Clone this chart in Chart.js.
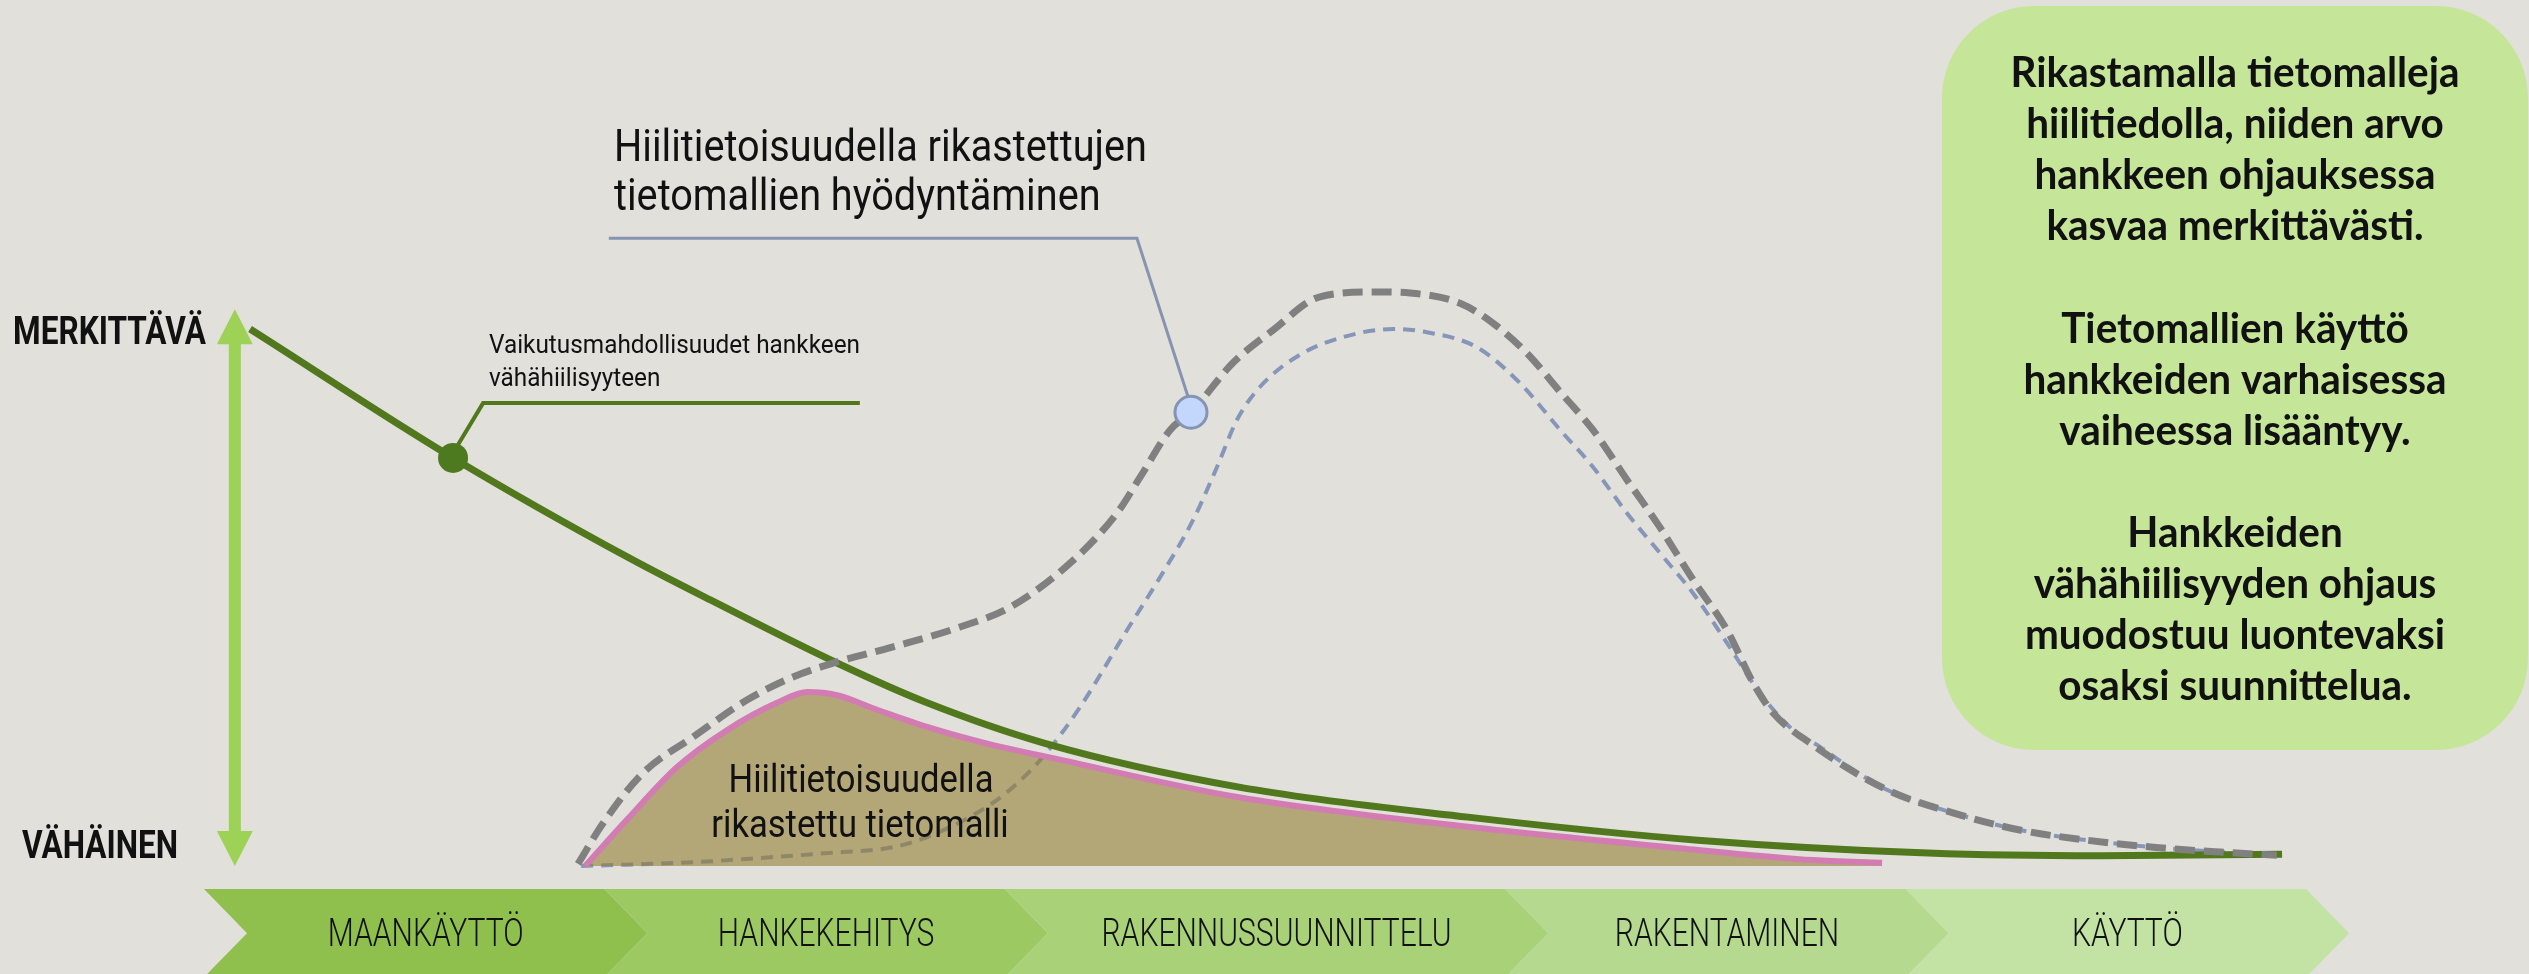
<!DOCTYPE html>
<html>
<head>
  <meta charset="utf-8">
  <title>Hiilitietoisuus tietomalleissa</title>
  <script src="https://cdn.jsdelivr.net/npm/chart.js"></script>
  <style>
    body { margin: 0; background: #e1e0db; }
  </style>
</head>
<body>
<canvas id="chart" width="2529" height="974"></canvas>
<script>
  // x: project phases (0 = start of MAANKÄYTTÖ, one unit ~ one phase)
  // y: 0 = vähäinen ... 100 = merkittävä
  const phases = ["MAANKÄYTTÖ", "HANKEKEHITYS", "RAKENNUSSUUNNITTELU", "RAKENTAMINEN", "KÄYTTÖ"];
  const phaseEdges = [0, 1, 2, 3.25, 4.25, 5.25];
  const phaseColors = ["#8fc04e", "#9cc962", "#a8d178", "#b5da8f", "#c2e3a3"];

  const levelLabels = ["VÄHÄINEN", "MERKITTÄVÄ"];
  const levelValues = [0, 100];

  // Vaikutusmahdollisuudet hankkeen vähähiilisyyteen
  const influenceX = [0.115, 0.622, 1.071, 1.266, 1.581, 1.806, 2.098, 2.585, 3.157, 3.731, 4.306, 4.735, 5.190];
  const influenceY = [100, 76.0, 57.0, 49.5, 37.8, 30.4, 22.9, 14.7, 9.1, 4.8, 2.4, 1.9, 2.2];

  // Hiilitietoisuudella rikastettujen tietomallien hyödyntäminen (thick grey dashes)
  const enrichedX = [0.934, 0.997, 1.096, 1.221, 1.356, 1.471, 1.581, 1.721, 1.888, 2.013, 2.163, 2.280, 2.338, 2.413,
    2.465, 2.570, 2.670, 2.787, 2.930, 3.012, 3.137, 3.219, 3.304, 3.387, 3.469, 3.554, 3.636, 3.719, 3.804, 3.869,
    3.919, 4.011, 4.203, 4.368, 4.535, 4.703, 4.868, 5.035, 5.177];
  const enrichedY = [0.4, 8.0, 17.3, 24.0, 30.9, 35.2, 38.0, 40.8, 44.5, 48.2, 56.4, 65.7, 72.4, 81.2,
    84.5, 93.7, 99.8, 106.0, 106.9, 106.7, 104.8, 101.1, 95.5, 88.3, 81.2, 71.9, 63.1, 53.3, 43.9, 34.1,
    28.5, 22.9, 14.2, 9.9, 6.7, 4.8, 3.5, 2.6, 2.0];

  // current use of data models (thin blue dashes)
  const currentX = [0.942, 1.221, 1.389, 1.556, 1.721, 1.806, 1.931, 2.013, 2.095, 2.188, 2.305, 2.388, 2.470, 2.530,
    2.580, 2.637, 2.737, 2.845, 2.970, 3.054, 3.179, 3.287, 3.387, 3.469, 3.554, 3.636, 3.719, 3.804, 3.886, 3.969,
    4.036, 4.093, 4.203, 4.368, 4.535, 4.703, 4.868, 5.035, 5.177];
  const currentY = [0, 0.7, 1.5, 2.4, 3.5, 5.4, 9.9, 14.2, 20.3, 29.6, 43.9, 53.8, 64.4, 74.3,
    83.1, 89.2, 95.2, 98.5, 100.0, 99.4, 96.6, 89.9, 81.2, 74.3, 65.7, 58.3, 50.8, 41.5, 32.2, 25.3,
    22.2, 19.2, 14.2, 9.9, 6.7, 4.8, 3.5, 2.6, 2.0];

  // Hiilitietoisuudella rikastettu tietomalli (filled area)
  const modelX = [0.952, 1.056, 1.181, 1.306, 1.431, 1.508, 1.581, 1.681, 1.806, 1.971, 2.095, 2.585, 3.157, 3.731, 4.019, 4.191];
  const modelY = [0, 8.6, 18.4, 25.3, 30.4, 32.4, 31.8, 29.1, 25.9, 22.5, 20.5, 12.8, 7.3, 3.0, 1.1, 0.6];

  // callout points and leader lines
  const influenceDot = [0.622, 76.0];
  const influenceLeaderX = [0.634, 0.697, 1.638];
  const influenceLeaderY = [78.4, 86.2, 86.2];
  const enrichedDot = [2.465, 84.5];
  const enrichedLeaderX = [2.458, 2.330, 1.011];
  const enrichedLeaderY = [87.3, 116.9, 116.9];

  const influenceText = ["Vaikutusmahdollisuudet hankkeen", "vähähiilisyyteen"];
  const enrichedText = ["Hiilitietoisuudella rikastettujen", "tietomallien hyödyntäminen"];
  const modelText = ["Hiilitietoisuudella", "rikastettu tietomalli"];
  const boxText = [
    "Rikastamalla tietomalleja", "hiilitiedolla, niiden arvo", "hankkeen ohjauksessa", "kasvaa merkittävästi.", "",
    "Tietomallien käyttö", "hankkeiden varhaisessa", "vaiheessa lisääntyy.", "",
    "Hankkeiden", "vähähiilisyyden ohjaus", "muodostuu luontevaksi", "osaksi suunnittelua."
  ];

  const pts = (xs, ys) => xs.map((x, i) => ({ x: x, y: ys[i] }));

  // draws text squeezed horizontally so the reference line gets the wanted width
  function squeeze(ctx, font, ref, width) {
    ctx.font = font;
    return width / ctx.measureText(ref).width;
  }
  function drawText(ctx, str, x, y, sx, align) {
    ctx.save();
    ctx.translate(x, y);
    ctx.scale(sx, 1);
    ctx.textAlign = align;
    ctx.textBaseline = "alphabetic";
    ctx.fillText(str, 0, 0);
    ctx.restore();
  }

  const backdrop = {
    id: "backdrop",
    beforeDatasetsDraw(chart) {
      const ctx = chart.ctx;
      const xs = chart.scales.x, ys = chart.scales.y;

      // phase chevrons
      const top = ys.getPixelForValue(-4.3), mid = ys.getPixelForValue(-12.5);
      const bottom = 2 * mid - top, d = 43;
      ctx.save();
      phases.forEach((p, i) => {
        const l = xs.getPixelForValue(phaseEdges[i]), r = xs.getPixelForValue(phaseEdges[i + 1]);
        ctx.beginPath();
        ctx.moveTo(l, top);
        ctx.lineTo(r, top);
        ctx.lineTo(r + d, mid);
        ctx.lineTo(r, bottom);
        ctx.lineTo(l, bottom);
        ctx.lineTo(l + d, mid);
        ctx.closePath();
        ctx.fillStyle = phaseColors[i];
        ctx.fill();
      });
      ctx.fillStyle = "#111";
      let f = "300 39px Roboto";
      let sx = squeeze(ctx, f, phases[0], 196);
      phases.forEach((p, i) => {
        const l = xs.getPixelForValue(phaseEdges[i]), r = xs.getPixelForValue(phaseEdges[i + 1]);
        drawText(ctx, p, (l + r) / 2 + d / 2, 946, sx, "center");
      });

      // vertical double arrow
      const ax = xs.getPixelForValue(0.077);
      const aTop = ys.getPixelForValue(103.7), aBot = ys.getPixelForValue(0);
      const head = 35, hw = 18, sw = 6;
      ctx.fillStyle = "#9dd256";
      ctx.beginPath();
      ctx.moveTo(ax, aTop);
      ctx.lineTo(ax + hw, aTop + head);
      ctx.lineTo(ax + sw, aTop + head);
      ctx.lineTo(ax + sw, aBot - head);
      ctx.lineTo(ax + hw, aBot - head);
      ctx.lineTo(ax, aBot);
      ctx.lineTo(ax - hw, aBot - head);
      ctx.lineTo(ax - sw, aBot - head);
      ctx.lineTo(ax - sw, aTop + head);
      ctx.lineTo(ax - hw, aTop + head);
      ctx.closePath();
      ctx.fill();

      // level labels
      ctx.fillStyle = "#111";
      f = "700 38px Roboto";
      sx = squeeze(ctx, f, levelLabels[1], 193);
      drawText(ctx, levelLabels[1], 13, ys.getPixelForValue(levelValues[1]) + 15, sx, "left");
      drawText(ctx, levelLabels[0], 22, ys.getPixelForValue(levelValues[0]) - 8, sx, "left");

      // text box
      ctx.fillStyle = "#c5e599";
      ctx.beginPath();
      ctx.roundRect(1942, 6, 586, 744, 92);
      ctx.fill();
      ctx.fillStyle = "#111";
      f = "700 42px Lato";
      sx = squeeze(ctx, f, boxText[0], 449);
      boxText.forEach((t, i) => { if (t) drawText(ctx, t, 2235, 87 + i * 51.1, sx, "center"); });

      // callout texts
      f = "400 44px Roboto";
      sx = squeeze(ctx, f, enrichedText[0], 533);
      drawText(ctx, enrichedText[0], 614, 161, sx, "left");
      drawText(ctx, enrichedText[1], 614, 210, sx, "left");
      f = "400 26px Roboto";
      sx = squeeze(ctx, f, influenceText[0], 371);
      drawText(ctx, influenceText[0], 489, 353, sx, "left");
      drawText(ctx, influenceText[1], 489, 386, sx, "left");
      ctx.restore();
    },
    afterDatasetsDraw(chart) {
      const ctx = chart.ctx;
      ctx.save();
      ctx.fillStyle = "#111";
      const f = "400 38px Roboto";
      const sx = squeeze(ctx, f, modelText[0], 265);
      drawText(ctx, modelText[0], 861, 792, sx, "center");
      drawText(ctx, modelText[1], 860, 837, sx, "center");
      ctx.restore();
    }
  };

  const line = { pointRadius: 0, fill: false, cubicInterpolationMode: "monotone" };

  new Chart(document.getElementById("chart"), {
    type: "line",
    data: {
      datasets: [
        { data: [{ x: enrichedDot[0], y: enrichedDot[1] }], showLine: false, pointRadius: 16,
          backgroundColor: "#c3d6fb", borderColor: "#8494b2", borderWidth: 3 },
        { data: pts(enrichedLeaderX, enrichedLeaderY), pointRadius: 0, tension: 0,
          borderColor: "#8794b0", borderWidth: 3 },
        { ...line, data: pts(enrichedX, enrichedY), borderColor: "#808080", borderWidth: 7, borderDash: [20, 9] },
        { data: [{ x: influenceDot[0], y: influenceDot[1] }], showLine: false, pointRadius: 15,
          backgroundColor: "#4e7a1f", borderWidth: 0 },
        { data: pts(influenceLeaderX, influenceLeaderY), pointRadius: 0, tension: 0,
          borderColor: "#52781e", borderWidth: 4 },
        { ...line, data: pts(influenceX, influenceY), borderColor: "#52781e", borderWidth: 7 },
        { ...line, data: pts(modelX, modelY), borderColor: "#d27cb3", borderWidth: 6,
          fill: "origin", backgroundColor: "rgba(148,127,52,0.6)" },
        { ...line, data: pts(currentX, currentY), borderColor: "#8596b8", borderWidth: 4, borderDash: [12, 8] }
      ]
    },
    options: {
      responsive: false,
      devicePixelRatio: 1,
      animation: false,
      events: [],
      layout: { padding: 0, autoPadding: false },
      scales: {
        x: { type: "linear", min: -0.5095, max: 5.8067, display: false },
        y: { type: "linear", min: -20.11, max: 161.27, display: false }
      },
      plugins: { legend: { display: false }, tooltip: { enabled: false } }
    },
    plugins: [backdrop]
  });
</script>
</body>
</html>
